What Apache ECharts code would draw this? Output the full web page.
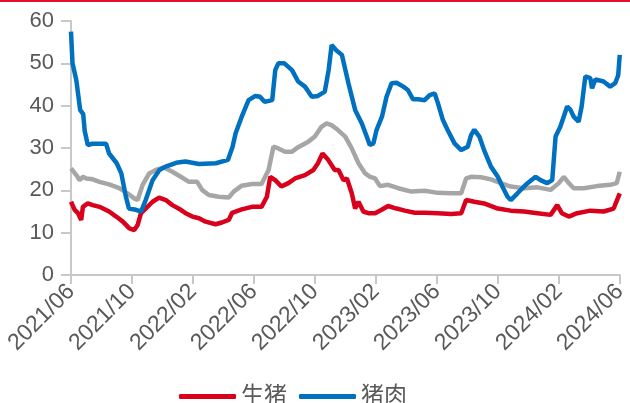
<!DOCTYPE html>
<html>
<head>
<meta charset="utf-8">
<script src="https://cdn.jsdelivr.net/npm/echarts@6/dist/echarts.min.js"></script>
<style>html,body{margin:0;padding:0;background:#fff}#c{width:630px;height:403px}</style>
</head>
<body>
<div id="c"></div>
<script>
// x = months since 2021/06
var tickLabels = ['2021/06','2021/10','2022/02','2022/06','2022/10','2023/02','2023/06','2023/10','2024/02','2024/06'];

var hogX = [0,0.24,0.46,0.67,0.78,1.1,1.43,1.87,2.5,2.96,3.4,3.83,4.15,4.37,4.59,4.9,5.35,5.78,6.22,6.65,7.2,7.52,7.96,8.4,8.83,9.48,9.9,10.35,10.57,11.2,11.87,12.5,12.85,13.07,13.4,13.8,14.26,14.7,15.35,15.9,16.2,16.5,16.87,17.3,17.55,17.88,18.1,18.42,18.64,18.86,19.18,19.5,19.95,20.38,20.8,21.36,21.9,22.55,23.2,24.07,24.94,25.6,25.92,26.46,27.1,28,28.85,29.72,30.6,31.46,31.9,32.2,32.66,33.2,34.07,34.94,35.6,36];
var hogY = [17.3,15.4,14.6,13,16.1,16.9,16.5,16.1,15,13.8,12.6,11,10.6,11.8,14.6,15.7,17.3,18.3,17.7,16.5,15.4,14.6,13.8,13.4,12.6,12,12.4,13,14.7,15.5,16.1,16.1,18.5,23.2,22.4,20.9,21.7,22.8,23.6,24.8,26.4,28.7,27.2,24.8,24.8,22.4,22.8,19.3,15.7,17.3,15,14.6,14.6,15.4,16.3,15.7,15.2,14.7,14.7,14.6,14.4,14.6,17.7,17.3,16.9,15.7,15.2,15,14.6,14.2,16.5,14.6,13.8,14.6,15.2,15,15.7,19.3];

var porkX = [0,0.1,0.35,0.6,0.8,0.9,1.1,1.4,2.3,2.5,3.0,3.3,3.6,3.8,4.25,4.6,4.9,5.35,5.8,6.2,6.9,7.5,8.4,9.5,10.3,10.6,10.8,11.2,11.65,12.1,12.4,12.7,13.2,13.4,13.6,14.0,14.5,14.9,15.35,15.8,16.2,16.65,16.9,17.1,17.4,17.77,18.2,18.64,19.08,19.4,19.6,19.84,20.05,20.4,20.7,21.03,21.36,21.8,22.1,22.44,22.77,23.2,23.53,23.86,24.07,24.4,24.7,25.16,25.6,26.03,26.25,26.46,26.79,27.1,27.55,28,28.3,28.64,28.85,29.29,29.83,30.48,30.8,31.24,31.57,31.79,32.1,32.55,32.77,32.98,33.3,33.5,33.74,34.07,34.18,34.4,34.94,35.37,35.7,35.9,36];
var porkY = [57.5,50,46,39,38,34,30.7,31,31,28.7,26.4,24,18.5,15.7,15.4,15,17.7,22.4,24.8,25.6,26.5,26.8,26.2,26.4,27.2,30.3,33.5,37.4,41.3,42.3,42.1,40.9,41.3,48.4,50,50,48.4,45.7,44.5,42.1,42.3,43.3,48.4,54.3,53.1,52,45.3,39,35.8,32.7,30.7,31.1,34.3,37.4,42.1,45.3,45.4,44.5,43.7,41.5,41.5,41.3,42.5,42.9,40.6,36.6,34.3,31.1,29.5,30.3,33.1,34.3,32.7,29.5,25.6,23.2,20.9,18.5,17.7,19.3,21.3,23.2,22.4,21.7,22.4,32.7,35,39.8,39,37.4,36.2,39.8,46.9,46.5,44.1,46.2,45.7,44.5,45.3,47.2,52];

var greyX = [0,0.35,0.57,0.78,1.0,1.43,1.87,2.5,3.17,3.7,4.15,4.37,4.7,5.13,5.56,6.1,6.65,7.2,7.74,8.28,8.6,9.04,9.7,10.35,10.67,11.2,11.87,12.5,12.96,13.28,13.6,14.04,14.48,14.9,15.57,16,16.43,16.76,17.09,17.5,17.99,18.42,18.86,19.3,19.62,19.95,20.27,20.8,21.47,22.33,23.2,24.07,24.94,25.6,25.92,26.25,26.9,27.55,28.2,28.85,29.72,30.6,31.46,32,32.33,32.66,32.98,33.63,34.5,35.37,35.8,36];
var greyY = [25.2,23.6,22.4,23.2,22.8,22.6,22,21.4,20.5,19.3,18.1,17.7,21.3,24,24.8,25.4,24.4,23.2,22,22,20.1,18.9,18.5,18.3,19.7,21.1,21.5,21.5,24.8,30.3,29.9,29.1,29.1,30.2,31.5,32.7,35,35.8,35.4,34.3,32.7,29.9,26.4,24,23.2,22.8,21,21.3,20.5,19.7,19.9,19.4,19.3,19.3,22.8,23.2,23.1,22.6,21.7,20.9,20.5,20.7,20.1,21.7,23.2,21.7,20.5,20.5,21,21.3,21.7,24.4];

function pairs(xs, ys){ return xs.map(function(x,i){ return [x, ys[i]]; }); }

var font = 'Liberation Sans, Arial, Noto Sans CJK SC, sans-serif';
var chart = echarts.init(document.getElementById('c'), null, {renderer:'canvas'});
chart.setOption({
  animation: false,
  backgroundColor: '#fff',
  graphic: [{type:'rect', shape:{x:0,y:0,width:630,height:2}, style:{fill:'#e8102e'}}],
  grid: {left: 71, right: 7, top: 21, bottom: 128, containLabel: false},
  legend: {
    data: ['生猪','猪肉'],
    left: 174, top: 380,
    icon: 'roundRect', itemWidth: 57, itemHeight: 5, itemGap: 12,
    textStyle: {fontSize: 23, color: '#595959', fontFamily: font}
  },
  xAxis: {
    type: 'value', min: 0, max: 36, interval: 4,
    axisLine: {show: true, lineStyle: {color: '#c8c8c8', width: 2}},
    axisTick: {show: true, length: 9, lineStyle: {color: '#c8c8c8', width: 2}},
    splitLine: {show: false},
    axisLabel: {
      rotate: 45, margin: 13, fontSize: 23, color: '#595959', fontFamily: font,
      formatter: function(v){ return tickLabels[Math.round(v/4)] || ''; }
    }
  },
  yAxis: {
    type: 'value', min: 0, max: 60, interval: 10,
    axisLine: {show: true, lineStyle: {color: '#c8c8c8', width: 2}},
    axisTick: {show: true, length: 10, lineStyle: {color: '#c8c8c8', width: 2}},
    splitLine: {show: false},
    axisLabel: {margin: 17, fontSize: 22, color: '#595959', fontFamily: font}
  },
  series: [
    {name: '其他', type: 'line', data: pairs(greyX, greyY), showSymbol: false, color: '#a6a6a6', lineStyle: {width: 4.5, color: '#a6a6a6'}, z: 1},
    {name: '生猪', type: 'line', data: pairs(hogX, hogY), showSymbol: false, color: '#d9001b', lineStyle: {width: 4.5, color: '#d9001b'}, z: 2},
    {name: '猪肉', type: 'line', data: pairs(porkX, porkY), showSymbol: false, color: '#0070c0', lineStyle: {width: 4.5, color: '#0070c0'}, z: 3}
  ]
});
</script>
</body>
</html>
